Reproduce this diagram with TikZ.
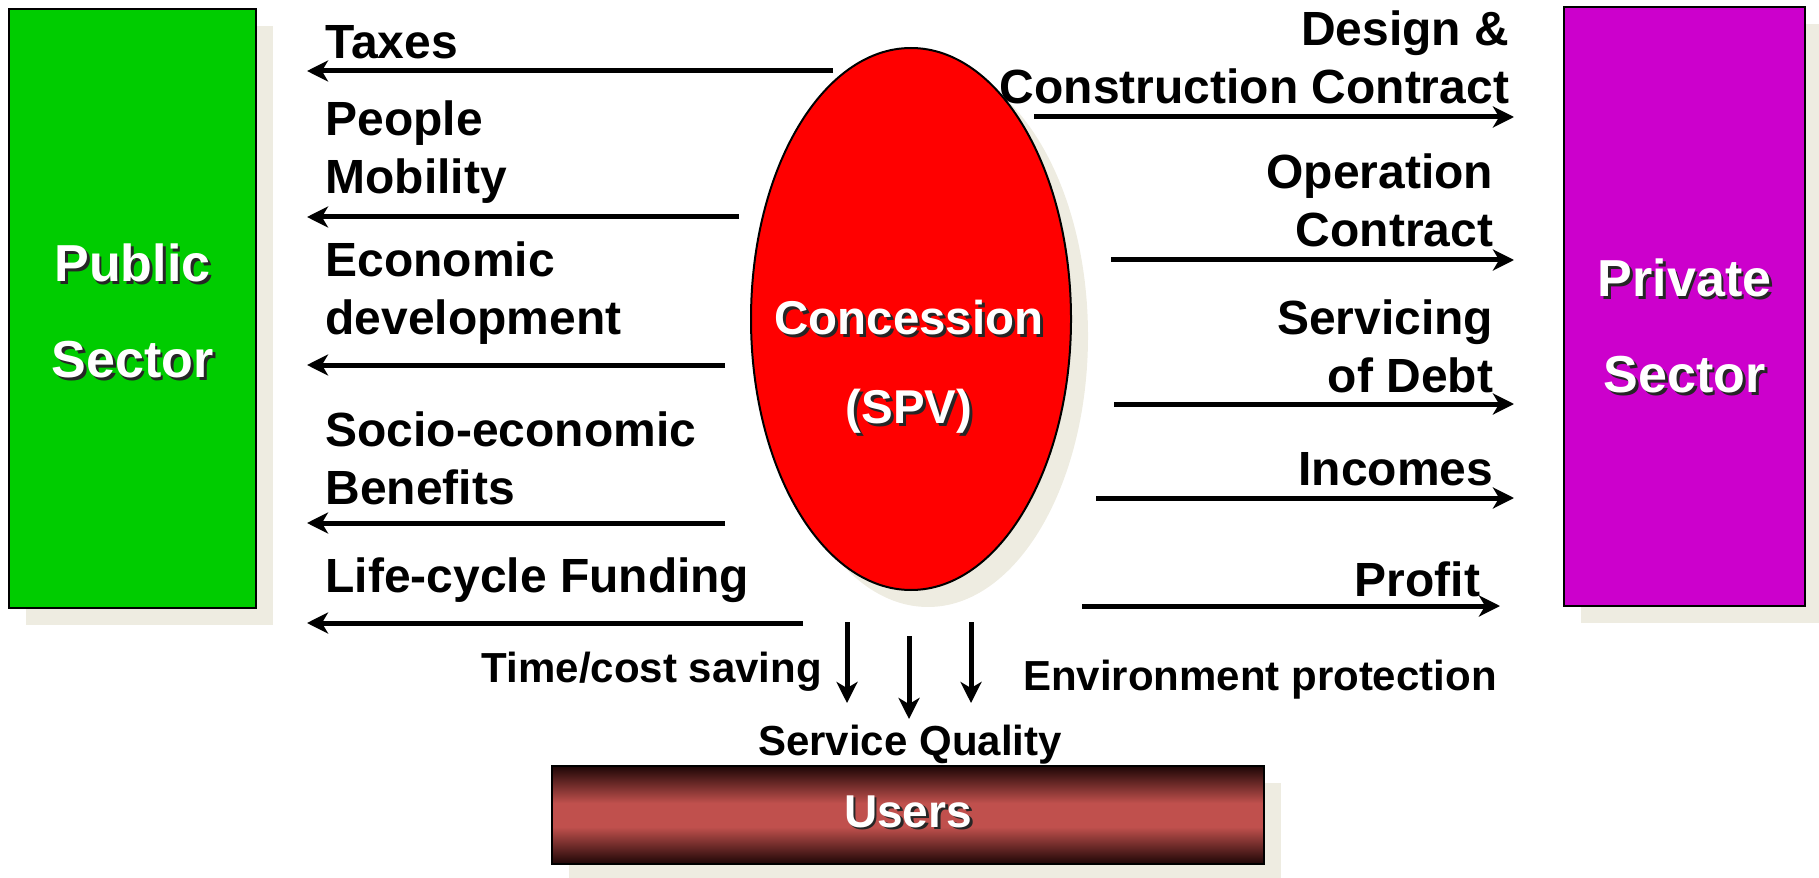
\documentclass[tikz,border=0pt]{standalone}
\usepackage{fontspec}
\setmainfont{Liberation Sans}
\usetikzlibrary{shapes,arrows.meta,shadows}

\definecolor{publicgreen}{HTML}{00CC00}
\definecolor{privatepurple}{HTML}{CC00CC}
\definecolor{spvred}{HTML}{FF0000}
\definecolor{usersmid}{HTML}{C0504D}
\definecolor{usersdark}{HTML}{1E0606}
\definecolor{shadowbeige}{HTML}{EEECE1}

\pgfdeclareverticalshading{usersshade}{100bp}{color(0bp)=(usersdark); color(25bp)=(usersdark); color(44bp)=(usersmid); color(56bp)=(usersmid); color(75bp)=(usersdark); color(100bp)=(usersdark)}

\newcommand{\shadowtext}[1]{\leavevmode\rlap{\kern1.6pt\raisebox{-1.6pt}{\color{black!85}#1}}#1}

\begin{document}
\begin{tikzpicture}[line width=0.0400cm]
	\tikzstyle{every node}=[font=\bfseries\fontsize{27.3}{33}\selectfont, inner sep=0pt]
	\tikzstyle{boxshadow}=[drop shadow={shadow xshift=0.3400cm, shadow yshift=-0.3400cm, fill=shadowbeige, opacity=1}]
	\tikzstyle{sector}=[draw, boxshadow]
	\tikzstyle{sectortext}=[text=white, align=center, font=\bfseries\fontsize{29.6}{54.6}\selectfont]
	\tikzstyle{flow}=[line width=0.1000cm, -{Stealth[length=12pt, width=12pt, inset=3.5pt]}]
	\tikzstyle{smalllabel}=[font=\bfseries\fontsize{23.9}{29}\selectfont]

	%% page frame
	\useasboundingbox (0.0000,0.0000) rectangle (36.3800,-17.5600);

	%% main blocks
	\node [sector, fill=publicgreen, minimum width=4.9400cm, minimum height=11.9800cm] (public) at (2.6500,-6.1700) {};
	\node [sector, fill=privatepurple, minimum width=4.8200cm, minimum height=11.9800cm] (private) at (33.6900,-6.1300) {};
	\node [ellipse, draw, fill=spvred, boxshadow, minimum width=6.4000cm, minimum height=10.8400cm] (spv) at (18.2200,-6.3800) {};
	\node [draw, shading=usersshade, boxshadow, text=white, font=\bfseries\fontsize{26.2}{32}\selectfont, minimum width=14.2400cm, minimum height=1.9600cm] (users) at (18.1600,-16.3000) {\raisebox{0.15cm}{\shadowtext{Users}}};

	\node [sectortext] (publictext) at (2.6500,-6.2500) {\shadowtext{Public}\\\shadowtext{Sector}};
	\node [sectortext] (privatetext) at (33.6900,-6.5500) {\shadowtext{Private}\\\shadowtext{Sector}};
	\node [sectortext, font=\bfseries\fontsize{27}{50.6}\selectfont] (spvtext) at (18.1800,-7.3700) {\shadowtext{Concession}\\\shadowtext{(SPV)}};

	%% flows to the public sector
	\coordinate (leftend) at (6.1400,0.0000);
	\coordinate (taxesstart) at (16.6600,-1.4200);
	\coordinate (mobilitystart) at (14.7800,-4.3400);
	\coordinate (economicstart) at (14.5000,-7.3000);
	\coordinate (benefitsstart) at (14.5000,-10.4600);
	\coordinate (fundingstart) at (16.0600,-12.4600);
	\draw [flow] (taxesstart) -- (taxesstart -| leftend);
	\draw [flow] (mobilitystart) -- (mobilitystart -| leftend);
	\draw [flow] (economicstart) -- (economicstart -| leftend);
	\draw [flow] (benefitsstart) -- (benefitsstart -| leftend);
	\draw [flow] (fundingstart) -- (fundingstart -| leftend);

	\node [right, align=left] (taxes) at (6.4900,-0.8400) {Taxes};
	\node [right, align=left] (mobility) at (6.4900,-3.0500) {People\\Mobility};
	\node [right, align=left] (economic) at (6.4900,-5.8700) {Economic\\development};
	\node [right, align=left] (benefits) at (6.4900,-9.1700) {Socio-economic\\Benefits};
	\node [right, align=left] (funding) at (6.4900,-11.6000) {Life-cycle Funding};

	%% flows to the private sector
	\coordinate (rightend) at (30.2800,0.0000);
	\coordinate (profitend) at (30.0000,0.0000);
	\coordinate (designstart) at (20.6800,-2.3400);
	\coordinate (operationstart) at (22.2200,-5.2000);
	\coordinate (debtstart) at (22.2800,-8.0800);
	\coordinate (incomesstart) at (21.9200,-9.9600);
	\coordinate (profitstart) at (21.6400,-12.1200);
	\draw [flow] (designstart) -- (designstart -| rightend);
	\draw [flow] (operationstart) -- (operationstart -| rightend);
	\draw [flow] (debtstart) -- (debtstart -| rightend);
	\draw [flow] (incomesstart) -- (incomesstart -| rightend);
	\draw [flow] (profitstart) -- (profitstart -| profitend);

	\node [left, align=right] (design) at (30.2000,-1.1500) {Design \&\\Construction Contract};
	\node [left, align=right] (operation) at (29.8800,-4.0000) {Operation\\Contract};
	\node [left, align=right] (debt) at (29.8800,-6.9300) {Servicing\\of Debt};
	\node [left, align=right] (incomes) at (29.8800,-9.3800) {Incomes};
	\node [left, align=right] (profit) at (29.6200,-11.5800) {Profit};

	%% flows to the users
	\coordinate (timestart) at (16.9400,-12.4400);
	\coordinate (timeend) at (16.9400,-14.0600);
	\coordinate (qualitystart) at (18.1800,-12.7200);
	\coordinate (qualityend) at (18.1800,-14.3800);
	\coordinate (environmentstart) at (19.4200,-12.4400);
	\coordinate (environmentend) at (19.4200,-14.0600);
	\draw [flow] (timestart) -- (timeend);
	\draw [flow] (qualitystart) -- (qualityend);
	\draw [flow] (environmentstart) -- (environmentend);

	\node [smalllabel, left] (saving) at (16.4600,-13.4400) {Time/cost saving};
	\node [smalllabel] (quality) at (18.2000,-14.9000) {Service Quality};
	\node [smalllabel, right] (environment) at (20.4400,-13.6000) {Environment protection};

\end{tikzpicture}
\end{document}
